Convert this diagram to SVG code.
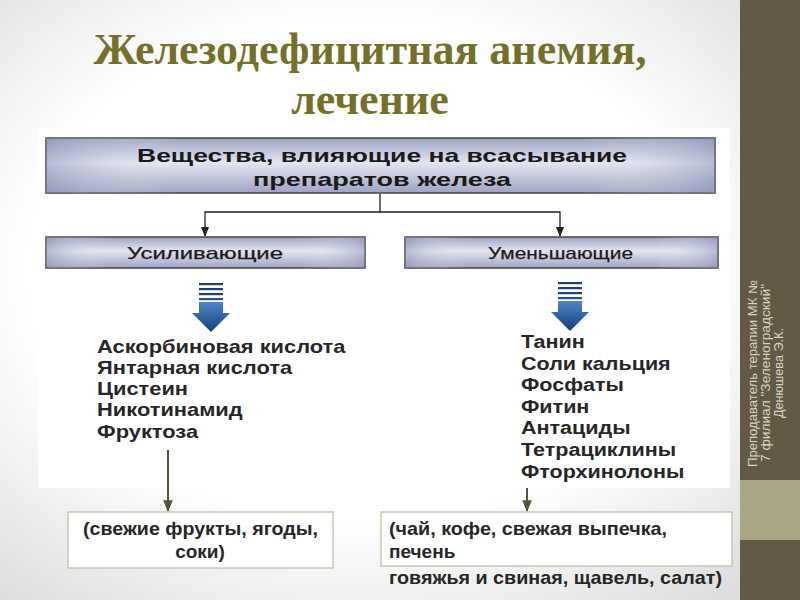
<svg xmlns="http://www.w3.org/2000/svg" width="800" height="600" viewBox="0 0 800 600">
<defs>
<radialGradient id="bg" cx="0.45" cy="0.45" r="0.75">
<stop offset="0.55" stop-color="#ffffff"/>
<stop offset="1" stop-color="#d9d9d9"/>
</radialGradient>
<linearGradient id="boxg" x1="0" y1="0" x2="0" y2="1">
<stop offset="0" stop-color="#9ea3c3"/>
<stop offset="0.45" stop-color="#e3e5f0"/>
<stop offset="1" stop-color="#9ea3c3"/>
</linearGradient>
<linearGradient id="boxh" x1="0" y1="0" x2="1" y2="0">
<stop offset="0" stop-color="#8a90b4" stop-opacity="0.5"/>
<stop offset="0.2" stop-color="#ffffff" stop-opacity="0"/>
<stop offset="0.8" stop-color="#ffffff" stop-opacity="0"/>
<stop offset="1" stop-color="#8a90b4" stop-opacity="0.5"/>
</linearGradient>
<linearGradient id="arrg" x1="0" y1="0" x2="0" y2="1">
<stop offset="0" stop-color="#4f86c6"/>
<stop offset="1" stop-color="#123f7a"/>
</linearGradient>
<marker id="ah" viewBox="0 0 10 10" refX="9" refY="5" markerWidth="10" markerHeight="10" markerUnits="userSpaceOnUse" orient="auto">
<path d="M0,1 L10,5 L0,9 Z" fill="#222"/>
</marker>
<marker id="ao" viewBox="0 0 10 10" refX="9" refY="5" markerWidth="12" markerHeight="12" markerUnits="userSpaceOnUse" orient="auto">
<path d="M0,1 L10,5 L0,9 Z" fill="#55533c"/>
</marker>
<g id="bluearrow">
<rect x="-12" y="0" width="24" height="2.2" fill="#1f3f6e"/>
<rect x="-12" y="5" width="24" height="2.2" fill="#1f3f6e"/>
<rect x="-12" y="10" width="24" height="2.2" fill="#1f3f6e"/>
<rect x="-12" y="15" width="24" height="2.2" fill="#2a4f86"/>
<path d="M-12,19 H12 V30 H19 L0,49 L-19,30 H-12 Z" fill="url(#arrg)"/>
</g>
</defs>
<style>
.title{font-family:"Liberation Serif",serif;font-weight:bold;font-size:44px;fill:#74702a;text-anchor:middle}
.bx{stroke:#444;stroke-width:1.5}
.hd{font-family:"Liberation Sans",Arial,sans-serif;font-weight:bold;font-size:19px;fill:#1a1a1a}
.sub{font-family:"Liberation Sans",Arial,sans-serif;font-size:17px;fill:#1a1a1a;stroke:#1a1a1a;stroke-width:0.25}
.li{font-family:"Liberation Sans",Arial,sans-serif;font-weight:bold;font-size:17.5px;fill:#262626}
.note{font-family:"Liberation Sans",Arial,sans-serif;font-weight:bold;font-size:19px;fill:#262626}
.nb{fill:#ffffff;stroke:#c9c9b4;stroke-width:1.5}
.side{font-family:"Liberation Sans",Arial,sans-serif;font-size:12px;fill:#d8d4c0}
.con{fill:none;stroke:#222;stroke-width:1.3}
.ocon{fill:none;stroke:#55533c;stroke-width:2}
</style>
<rect width="800" height="600" fill="url(#bg)"/>
<rect x="38" y="128" width="692" height="360" fill="#ffffff"/>
<rect x="740" y="0" width="60" height="600" fill="#625a45"/>
<rect x="740" y="480" width="60" height="60" fill="#aaa784"/>
<g id="sidebar">
<text class="side" transform="translate(757,467) rotate(-90)" textLength="187" lengthAdjust="spacingAndGlyphs">Преподаватель терапии МК №</text>
<text class="side" transform="translate(770,462) rotate(-90)" textLength="178" lengthAdjust="spacingAndGlyphs">7 филиал "Зеленоградский"</text>
<text class="side" transform="translate(783,418) rotate(-90)" textLength="90" lengthAdjust="spacingAndGlyphs">Денюшева Э.К.</text>
</g>
<g id="title">
<text class="title" x="370" y="64">Железодефицитная анемия,</text>
<text class="title" x="370" y="114">лечение</text>
</g>
<g id="connectors">
<path class="con" d="M380,194 V212 H205 V236" marker-end="url(#ah)"/>
<path class="con" d="M380,212 H560 V236" marker-end="url(#ah)"/>
<path class="ocon" d="M168,450 V511" marker-end="url(#ao)"/>
<path class="ocon" d="M527,488 V511" marker-end="url(#ao)"/>
</g>
<g id="top">
<rect class="bx" x="46" y="138" width="669" height="55" fill="url(#boxg)"/>
<rect x="46" y="138" width="669" height="55" fill="url(#boxh)"/>
<text class="hd" x="137" y="162" textLength="490" lengthAdjust="spacingAndGlyphs">Вещества, влияющие на всасывание</text>
<text class="hd" x="253" y="186" textLength="258" lengthAdjust="spacingAndGlyphs">препаратов железа</text>
</g>
<g id="enh">
<rect class="bx" x="46" y="237" width="319" height="31" fill="url(#boxg)"/>
<rect x="46" y="237" width="319" height="31" fill="url(#boxh)"/>
<text class="sub" x="127" y="259" textLength="156" lengthAdjust="spacingAndGlyphs">Усиливающие</text>
</g>
<g id="red">
<rect class="bx" x="405" y="237" width="313" height="31" fill="url(#boxg)"/>
<rect x="405" y="237" width="313" height="31" fill="url(#boxh)"/>
<text class="sub" x="488" y="259" textLength="145" lengthAdjust="spacingAndGlyphs">Уменьшающие</text>
</g>
<g id="arrowL"><use href="#bluearrow" transform="translate(211,283)"/></g>
<g id="arrowR"><use href="#bluearrow" transform="translate(570,282)"/></g>
<g id="listL" transform="translate(97,0) scale(1.25,1)">
<text class="li" x="0" y="353">Аскорбиновая кислота</text>
<text class="li" x="0" y="374">Янтарная кислота</text>
<text class="li" x="0" y="395">Цистеин</text>
<text class="li" x="0" y="416">Никотинамид</text>
<text class="li" x="0" y="438">Фруктоза</text>
</g>
<g id="listR" transform="translate(521,0) scale(1.23,1)">
<text class="li" x="0" y="348">Танин</text>
<text class="li" x="0" y="370">Соли кальция</text>
<text class="li" x="0" y="391">Фосфаты</text>
<text class="li" x="0" y="413">Фитин</text>
<text class="li" x="0" y="434">Антациды</text>
<text class="li" x="0" y="456">Тетрациклины</text>
<text class="li" x="0" y="478">Фторхинолоны</text>
</g>
<g id="noteL">
<rect class="nb" x="68" y="512" width="265" height="56"/>
<text class="note" x="83" y="535" textLength="235" lengthAdjust="spacingAndGlyphs">(свежие фрукты, ягоды,</text>
<text class="note" x="200" y="558" text-anchor="middle">соки)</text>
</g>
<g id="noteR">
<rect class="nb" x="381" y="512" width="351" height="54"/>
<text class="note" x="389" y="535" textLength="278" lengthAdjust="spacingAndGlyphs">(чай, кофе, свежая выпечка,</text>
<text class="note" x="389" y="558">печень</text>
<text class="note" x="389" y="584" textLength="333" lengthAdjust="spacingAndGlyphs">говяжья и свиная, щавель, салат)</text>
</g>
</svg>
